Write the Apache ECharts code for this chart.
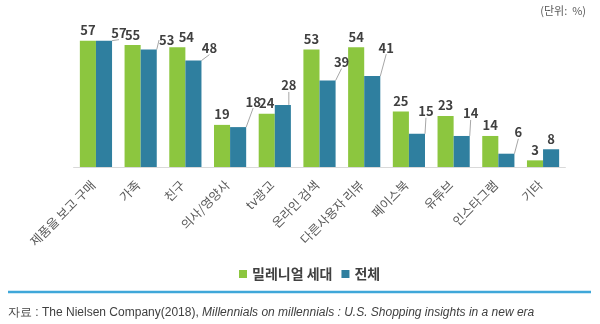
<!DOCTYPE html>
<html><head><meta charset="utf-8">
<script src="https://cdn.jsdelivr.net/npm/echarts@6/dist/echarts.min.js"></script>
<style>html,body{margin:0;padding:0;background:#fff}#c{width:600px;height:324px}</style>
</head><body><div id="c"></div>
<script>
const categories = ['제품을 보고 구매','가족','친구','의사/영양사','tv광고','온라인 검색','다른사용자 리뷰','페이스북','유튜브','인스타그램','기타'];
const millennials = [57,55,54,19,24,53,54,25,23,14,3];
const total = [57,53,48,18,28,39,41,15,14,6,8];
const seriesNames = ['밀레니얼 세대','전체'];
// label offsets (dx, dy) for the labels
const millLabelDx = [0,0,9,0,0,0,0,0,0,0,0];
const totalLabelDx = [15,18,16,15,6,14,14,9,9,12,0];
const totalLabelDy = [3,1,-2,-15,-9,-8,-18,-12,-12,-11,0];

const GREEN = '#8cc63f', BLUE = '#2f7f9f';
const chart = echarts.init(document.getElementById('c'));
const labelFont = {fontFamily:'Noto Sans CJK KR', fontSize:13, fontWeight:'bold', color:'#404040'};
chart.setOption({
  animation:false,
  textStyle:{fontFamily:'Noto Sans CJK KR'},
  grid:{left:73.6, right:34.6, top:34, bottom:157},
  xAxis:{type:'category', data:categories,
    axisLine:{lineStyle:{color:'#d9d9d9'}}, axisTick:{show:false},
    axisLabel:{rotate:45, interval:0, fontSize:12.5, color:'#595959', margin:13, padding:[0,4,0,0]}},
  yAxis:{type:'value', min:0, max:60, show:false, splitLine:{show:false}},
  legend:{left:234, top:262, itemWidth:8, itemHeight:8, itemGap:9,
    textStyle:{fontSize:14, fontWeight:'bold', color:'#404040'},
    data:seriesNames, icon:'rect'},
  series:[
    {name:seriesNames[0], type:'bar', data:millennials, barGap:'0%', barCategoryGap:'28%',
      itemStyle:{color:GREEN},
      label:Object.assign({show:true, position:'top', distance:4}, labelFont),
      labelLayout:function(p){ return {dx: millLabelDx[p.dataIndex]}; }},
    {name:seriesNames[1], type:'bar', barGap:'0%', barCategoryGap:'28%',
      data: total.map((v,i)=>({value:v, labelLine:{show: totalLabelDx[i]!==0}})),
      itemStyle:{color:BLUE},
      label:Object.assign({show:true, position:'top', distance:4}, labelFont),
      labelLayout:function(p){ return {dx: totalLabelDx[p.dataIndex], dy: totalLabelDy[p.dataIndex]}; },
      labelLine:{show:true, lineStyle:{color:'#a6a6a6', width:1}}}
  ],
  graphic:[
    {type:'text', right:14, top:5, style:{text:'(단위:  %)', fontSize:11, fill:'#595959', fontFamily:'Noto Sans CJK KR'}},
    {type:'line', shape:{x1:8, y1:292, x2:591, y2:292}, style:{stroke:'#3fa7d9', lineWidth:2.5}},
    {type:'text', left:8, top:307, style:{
      text:'{n|자료 : The Nielsen Company(2018), }{i|Millennials on millennials : U.S. Shopping insights in a new era}',
      rich:{n:{fontSize:12, fill:'#404040', fontFamily:'Liberation Sans'},
            i:{fontSize:12, fill:'#404040', fontStyle:'italic', fontFamily:'Liberation Sans'}}}}
  ]
});
</script></body></html>
